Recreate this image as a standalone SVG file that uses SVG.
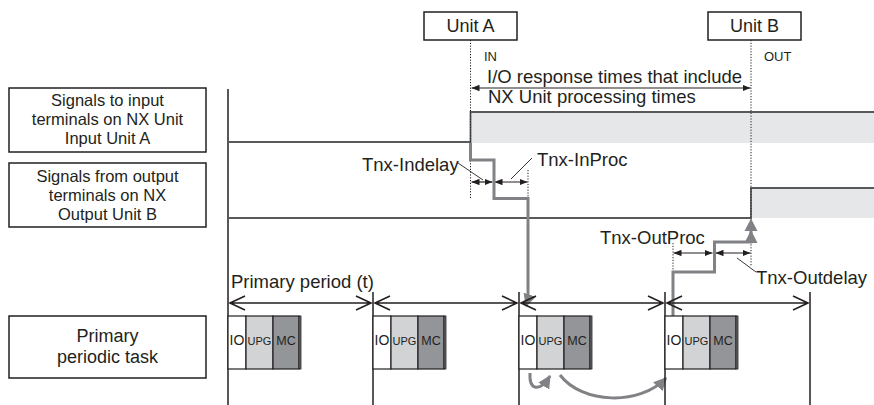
<svg xmlns="http://www.w3.org/2000/svg" width="874" height="405" viewBox="0 0 874 405">
<style>
text{font-family:"Liberation Sans",Arial,sans-serif;fill:#231f20}
.lbl{font-size:16.5px;text-anchor:middle}
.lb2{font-size:18px;text-anchor:middle}
.t18{font-size:18.5px}
.sm{font-size:13px}
.blk{text-anchor:middle}
.bio{font-size:14px}
.bupg{font-size:11px}
.bmc{font-size:12.5px}
.box{fill:#fff;stroke:#231f20;stroke-width:1.5}
.ln{fill:none;stroke:#231f20;stroke-width:1.5}
.sig{fill:none;stroke:#58595b;stroke-width:1.8}
.dot{fill:none;stroke:#231f20;stroke-width:1;stroke-dasharray:1.2 1.6}
.thin{fill:none;stroke:#231f20;stroke-width:0.9}
.dim{fill:none;stroke:#231f20;stroke-width:1.2;marker-start:url(#da);marker-end:url(#da)}
.gp{fill:none;stroke:#808285;stroke-width:3}
.per{fill:none;stroke:#231f20;stroke-width:1.6}
.io{fill:#fff;stroke:#231f20;stroke-width:1.2}
.upg{fill:#d1d3d4;stroke:#231f20;stroke-width:1.2}
.mc{fill:#939598;stroke:#231f20;stroke-width:1.2}
.st{fill:#6d6e71;stroke:#231f20;stroke-width:0.8}
</style>
<defs>
<marker id="da" viewBox="0 0 10 8" refX="10" refY="4" markerWidth="8" markerHeight="6.4" markerUnits="userSpaceOnUse" orient="auto-start-reverse">
<path d="M0,0 L10,4 L0,8 Z" fill="#231f20"/>
</marker>
<marker id="ga" viewBox="0 0 12 12" refX="11" refY="6" markerWidth="13" markerHeight="13" markerUnits="userSpaceOnUse" orient="auto">
<path d="M0,0 L12,6 L0,12 Z" fill="#808285"/>
</marker>
</defs>

<g id="label-input">
<rect class="box" x="9" y="88" width="197" height="64"/>
<text class="lbl" x="107.5" y="106">Signals to input</text>
<text class="lbl" x="107.5" y="125">terminals on NX Unit</text>
<text class="lbl" x="107.5" y="144">Input Unit A</text>
</g>
<g id="label-output">
<rect class="box" x="9" y="163" width="197" height="64"/>
<text class="lbl" x="107.5" y="182">Signals from output</text>
<text class="lbl" x="107.5" y="201">terminals on NX</text>
<text class="lbl" x="107.5" y="220">Output Unit B</text>
</g>
<g id="label-task">
<rect class="box" x="9" y="316" width="197" height="62"/>
<text class="lb2" x="107.5" y="342">Primary</text>
<text class="lb2" x="107.5" y="363">periodic task</text>
</g>
<g id="unit-a">
<rect class="box" x="424" y="12" width="93" height="28"/>
<text class="lb2" x="470.5" y="32">Unit A</text>
</g>
<g id="unit-b">
<rect class="box" x="708" y="12" width="93" height="28"/>
<text class="lb2" x="754.5" y="32">Unit B</text>
</g>

<g id="signals">
<rect x="471" y="112" width="403" height="31" fill="#e6e7e8"/>
<rect x="752" y="188" width="122" height="30" fill="#e6e7e8"/>
<line class="ln" x1="228" y1="89" x2="228" y2="405"/>
<path class="sig" d="M228,142 H470.5 V112 H874"/>
<path class="sig" d="M228,218 H751 V188 H874"/>
</g>

<g id="connectors">
<line class="dot" x1="470.5" y1="40" x2="470.5" y2="198"/>
<line class="dot" x1="751" y1="40" x2="751" y2="266"/>
<line class="dot" x1="528" y1="170" x2="528" y2="198"/>
<line class="dot" x1="673" y1="243" x2="673" y2="272"/>
<line class="dim" x1="471.5" y1="88" x2="750.5" y2="88"/>
<line class="dim" x1="471.5" y1="182" x2="492.5" y2="182"/>
<line class="dim" x1="494.5" y1="182" x2="527.5" y2="182"/>
<line class="dim" x1="673.5" y1="253" x2="712.5" y2="253"/>
<line class="dim" x1="715.5" y1="253" x2="750.5" y2="253"/>
<line class="thin" x1="458" y1="163" x2="483" y2="180"/>
<line class="thin" x1="532" y1="158" x2="511" y2="179"/>
<line class="thin" x1="737" y1="258" x2="756" y2="272"/>
<path class="gp" d="M470.5,143 V160 H494 V198.5 H528 V300 L526,306" marker-end="url(#ga)"/>
<path class="gp" d="M673,316 V272 H714.5 V242 H751 V231" marker-end="url(#ga)"/>
<path d="M744.5,231 L751,218.5 L757.5,231 Z" fill="#808285"/>
<path class="gp" d="M530,373 C529,391 540,392 550,376" marker-end="url(#ga)"/>
<path class="gp" stroke-width="3.5" d="M560,375 C582,404 640,406 666,378" marker-end="url(#ga)"/>
</g>

<g id="periods">
<line class="ln" x1="373" y1="292" x2="373" y2="405"/>
<line class="ln" x1="519" y1="292" x2="519" y2="405"/>
<line class="ln" x1="665" y1="292" x2="665" y2="405"/>
<line class="ln" x1="810" y1="292" x2="810" y2="405"/>
<path class="per" d="M230,303 H371 M245,296 L230,303 L245,310 M356,296 L371,303 L356,310"/>
<path class="per" d="M375,303 H517 M390,296 L375,303 L390,310 M502,296 L517,303 L502,310"/>
<path class="per" d="M521,303 H663 M536,296 L521,303 L536,310 M648,296 L663,303 L648,310"/>
<path class="per" d="M667,303 H808 M682,296 L667,303 L682,310 M793,296 L808,303 L793,310"/>
</g>

<g id="task-1">
<rect class="io" x="228" y="316" width="18" height="53"/><rect class="upg" x="246" y="316" width="27" height="53"/><rect class="mc" x="273" y="316" width="26" height="53"/><rect class="st" x="299" y="316" width="2" height="53"/>
<text class="blk bio" x="237" y="345">IO</text><text class="blk bupg" x="259.5" y="345">UPG</text><text class="blk bmc" x="286" y="345">MC</text>
</g>
<g id="task-2">
<rect class="io" x="373" y="316" width="18" height="53"/><rect class="upg" x="391" y="316" width="27" height="53"/><rect class="mc" x="418" y="316" width="26" height="53"/><rect class="st" x="444" y="316" width="2" height="53"/>
<text class="blk bio" x="382" y="345">IO</text><text class="blk bupg" x="404.5" y="345">UPG</text><text class="blk bmc" x="431" y="345">MC</text>
</g>
<g id="task-3">
<rect class="io" x="519" y="316" width="18" height="53"/><rect class="upg" x="537" y="316" width="27" height="53"/><rect class="mc" x="564" y="316" width="26" height="53"/><rect class="st" x="590" y="316" width="2" height="53"/>
<text class="blk bio" x="528" y="345">IO</text><text class="blk bupg" x="550.5" y="345">UPG</text><text class="blk bmc" x="577" y="345">MC</text>
</g>
<g id="task-4">
<rect class="io" x="665" y="316" width="18" height="53"/><rect class="upg" x="683" y="316" width="27" height="53"/><rect class="mc" x="710" y="316" width="26" height="53"/><rect class="st" x="736" y="316" width="2" height="53"/>
<text class="blk bio" x="674" y="345">IO</text><text class="blk bupg" x="696.5" y="345">UPG</text><text class="blk bmc" x="723" y="345">MC</text>
</g>

<g id="texts">
<text class="sm" x="484" y="61">IN</text>
<text class="sm" x="764" y="61">OUT</text>
<text class="t18" x="487" y="83">I/O response times that include</text>
<text class="t18" x="488" y="103">NX Unit processing times</text>
<text class="t18" x="362" y="171">Tnx-Indelay</text>
<text class="t18" x="537" y="166">Tnx-InProc</text>
<text class="t18" x="600" y="244">Tnx-OutProc</text>
<text class="t18" x="756" y="284">Tnx-Outdelay</text>
<text class="t18" x="231" y="288">Primary period (t)</text>
</g>
</svg>
